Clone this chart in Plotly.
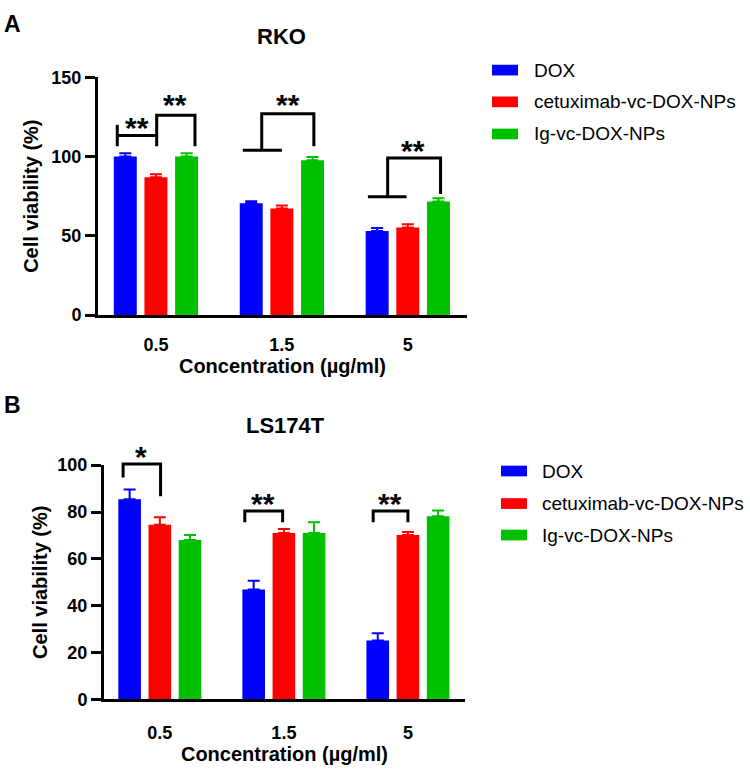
import plotly.graph_objects as go

# ---------------- data ----------------
concentrations = ["0.5", "1.5", "5"]
series_names = ["DOX", "cetuximab-vc-DOX-NPs", "Ig-vc-DOX-NPs"]
series_colors = ["#0000FF", "#FF0000", "#00C000"]

rko_dox = [100.0, 70.5, 53.0]
rko_cet = [87.0, 67.2, 55.3]
rko_ig = [100.0, 97.7, 71.7]
rko_dox_err = [2.0, 1.3, 2.0]
rko_cet_err = [1.8, 2.0, 2.0]
rko_ig_err = [2.0, 2.0, 2.0]

ls_dox = [85.4, 46.9, 25.1]
ls_cet = [74.6, 71.0, 70.2]
ls_ig = [68.1, 71.0, 78.2]
ls_dox_err = [4.2, 3.7, 3.1]
ls_cet_err = [3.2, 1.7, 1.3]
ls_ig_err = [2.1, 4.6, 2.4]

rko_yticks = [0, 50, 100, 150]
ls_yticks = [0, 20, 40, 60, 80, 100]

# significance marks (label, x in category units, y in data units)
rko_sig = [("**", -0.15, 123), ("**", 0.15, 137), ("**", 1.05, 137), ("**", 2.04, 108)]
ls_sig = [("*", -0.148, 106.5), ("**", 0.833, 86.8), ("**", 1.855, 86.8)]

# ---------------- layout helpers ----------------
W, H = 750, 771
def px(x):
    return x / W
def py(y):
    return 1 - y / H

XR_A = [-0.46, 2.47]
XR_B = [-0.45, 2.46]
YR_A = [0, 150]
YR_B = [0, 100]

FONT = "Liberation Sans, Arial, sans-serif"

fig = go.Figure()

def add_bars(vals_list, errs_list, xa, ya):
    for name, col, vals, errs in zip(series_names, series_colors, vals_list, errs_list):
        fig.add_trace(go.Bar(
            x=concentrations, y=vals, name=name, xaxis=xa, yaxis=ya,
            marker=dict(color=col, line=dict(width=0)),
            error_y=dict(type="data", symmetric=False, array=errs,
                         arrayminus=[0] * len(errs), color=col, thickness=2, width=6),
            showlegend=False, hoverinfo="skip",
        ))

add_bars([rko_dox, rko_cet, rko_ig], [rko_dox_err, rko_cet_err, rko_ig_err], "x", "y")
add_bars([ls_dox, ls_cet, ls_ig], [ls_dox_err, ls_cet_err, ls_ig_err], "x2", "y2")

axis_common = dict(showline=True, linewidth=3, linecolor="black", showgrid=False,
                   zeroline=False, mirror=False)

def xaxis_style(ticklen):
    return dict(axis_common, ticks="outside", ticklen=ticklen, tickcolor="rgba(0,0,0,0)",
                tickfont=dict(family=FONT, size=18, color="black", weight="bold"),
                title=dict(text="Concentration (µg/ml)", standoff=6,
                           font=dict(family=FONT, size=20, color="black", weight="bold")),
                type="category")

def yaxis_style(standoff):
    return dict(axis_common, ticks="outside", ticklen=10, tickwidth=3, tickcolor="black",
                tickfont=dict(family=FONT, size=18, color="black", weight="bold"),
                title=dict(text="Cell viability (%)", standoff=standoff,
                           font=dict(family=FONT, size=20, color="black", weight="bold")))

fig.update_layout(
    width=W, height=H, margin=dict(l=0, r=0, t=0, b=0),
    paper_bgcolor="white", plot_bgcolor="white",
    barmode="group", bargap=0.27, bargroupgap=0.25,
    xaxis=dict(xaxis_style(11), domain=[px(98), px(467)], range=XR_A, anchor="y"),
    yaxis=dict(yaxis_style(8), domain=[py(313.3), py(69)], range=YR_A,
               tickvals=rko_yticks, anchor="x"),
    xaxis2=dict(xaxis_style(15), domain=[px(104), px(465)], range=XR_B, anchor="y2"),
    yaxis2=dict(yaxis_style(5), domain=[py(707.7), py(467.3)], range=YR_B,
                tickvals=ls_yticks, anchor="x2"),
)

def to_dom(x, y, xr, yr):
    return (x - xr[0]) / (xr[1] - xr[0]), (y - yr[0]) / (yr[1] - yr[0])

# ---------------- brackets ----------------
def bracket(points, xr, yr, xref, yref):
    pts = [to_dom(x, y, xr, yr) for x, y in points]
    path = "M " + " L ".join(f"{a:.5f},{b:.5f}" for a, b in pts)
    fig.add_shape(type="path", path=path, xref=xref, yref=yref,
                  line=dict(color="black", width=3))

rko_brackets = [
    [(-0.307, 120), (-0.307, 106.5)],
    [(-0.307, 113.3), (0.006, 113.3)],
    [(0.006, 106.5), (0.006, 126), (0.31, 126), (0.31, 106.5)],
    [(0.69, 104), (1.0, 104)],
    [(0.84, 104), (0.84, 127), (1.254, 127), (1.254, 106.5)],
    [(1.683, 74.7), (1.99, 74.7)],
    [(1.84, 74.7), (1.84, 99), (2.26, 99), (2.26, 76.4)],
]
ls_brackets = [
    [(-0.296, 94.7), (-0.296, 100.5), (0.006, 100.5), (0.006, 86.7)],
    [(0.685, 75.6), (0.685, 80.4), (0.99, 80.4), (0.99, 75.6)],
    [(1.72, 75.6), (1.72, 80.4), (2.0, 80.4), (2.0, 75.6)],
]
for b in rko_brackets:
    bracket(b, XR_A, YR_A, "x domain", "y domain")
for b in ls_brackets:
    bracket(b, XR_B, YR_B, "x2 domain", "y2 domain")

def stars(marks, xr, yr, xref, yref):
    for lab, x, y in marks:
        dx, dy = to_dom(x, y, xr, yr)
        fig.add_annotation(text=lab, x=dx, y=dy, xref=xref, yref=yref, showarrow=False,
                           xanchor="center", yanchor="middle", yshift=-7,
                           font=dict(family=FONT, size=30, color="black", weight="bold"))

stars(rko_sig, XR_A, YR_A, "x domain", "y domain")
stars(ls_sig, XR_B, YR_B, "x2 domain", "y2 domain")

# ---------------- titles & panel letters ----------------
def text(t, x, y, size, bold=True, xanchor="center"):
    fig.add_annotation(text=t, x=px(x), y=py(y), xref="paper", yref="paper",
                       showarrow=False, xanchor=xanchor, yanchor="middle",
                       font=dict(family=FONT, size=size, color="black",
                                 weight="bold" if bold else "normal"))

text("RKO", 281.7, 26.7, 22)
text("LS174T", 285, 426.7, 22)
text("A", 2, 14.5, 23, xanchor="left")
text("B", 2, 406, 23, xanchor="left")

# ---------------- legends ----------------
def legend(x0, rows_y, text_x):
    for name, col, yc in zip(series_names, series_colors, rows_y):
        fig.add_shape(type="rect", xref="paper", yref="paper",
                      x0=px(x0), x1=px(x0 + 26), y0=py(yc + 5.5), y1=py(yc - 5.5),
                      fillcolor=col, line=dict(width=0))
        text(name, text_x, yc, 19, bold=False, xanchor="left")

legend(492, [61.7, 94.3, 127.3], 532)
legend(501, [473.3, 506.7, 539], 540)

fig.write_html(
    "out.html",
    config={"displayModeBar": False, "staticPlot": True},
    post_script=(
        "document.documentElement.style.margin='0';"
        "document.documentElement.style.overflow='hidden';"
        "document.body.style.margin='0';document.body.style.overflow='hidden';"
        "var d=document.getElementsByClassName('plotly-graph-div')[0];"
        "d.style.position='fixed';d.style.top='0px';d.style.left='0px';"
    ),
)
